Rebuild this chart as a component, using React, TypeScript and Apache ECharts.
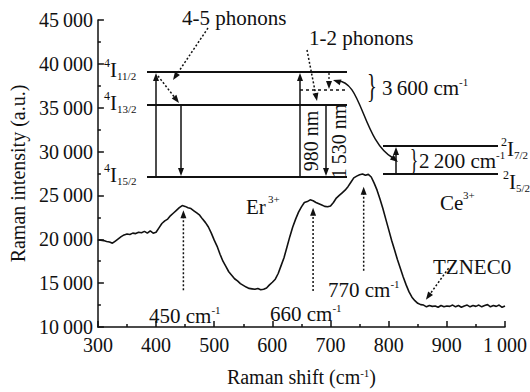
import React, { useEffect, useRef } from 'react';
import * as echarts from 'echarts';

// ---------- data ----------
const shiftStart = 300;
const shiftStep = 5;
const intensity = [
  19950, 19900, 19850, 19750, 19700, 19550, 19800, 20050, 20300, 20500,
  20600, 20550, 20700, 20650, 20800, 20750, 20900, 20700, 20950, 20700,
  20800, 21300, 21800, 22100, 22300, 22700, 23000, 23300, 23600, 23850,
  23750, 23600, 23500, 23250, 23000, 22750, 22300, 21900, 21400, 20700,
  19900, 19200, 18300, 17500, 16900, 16300, 15900, 15500, 15250, 14950,
  14750, 14550, 14400, 14350, 14300, 14400, 14250, 14300, 14450, 14800,
  15100, 15450, 16100, 17000, 17900, 19100, 20300, 21400, 22300, 23100,
  23700, 24200, 24300, 24500, 24400, 24200, 24050, 23900, 23750, 23700,
  23800, 24200, 24700, 25000, 25300, 25600, 26000, 26500, 27000, 27200,
  27350, 27450, 27300, 27400, 27100, 26400, 25600, 24600, 23500, 22300,
  21100, 19900, 18800, 17700, 16700, 15700, 14800, 14000, 13400, 13000,
  12700, 12550, 12500, 12300, 12450, 12350, 12400, 12250, 12450, 12300,
  12400, 12350, 12500, 12300, 12450, 12250, 12400, 12500, 12300, 12450,
  12350, 12500, 12300, 12450, 12550, 12300, 12450, 12350, 12500, 12250,
  12400,
];
const xTicks = [300, 400, 500, 600, 700, 800, 900, 1000];
const yTicks = [10000, 15000, 20000, 25000, 30000, 35000, 40000, 45000];

// peak annotations
const peakLabels = ['450', '660', '770'];
const peakArrowShift = [447, 670, 757];
const peakArrowTip = [23300, 23600, 26000];
const peakArrowTail = [14200, 14100, 16400];

const INK = '#111';
const FONT = 'Liberation Serif';

function fmt(v: number) {
  if (v >= 1000) {
    const k = Math.floor(v / 1000);
    const r = String(v % 1000).padStart(3, '0');
    return k + '\u2009' + r;
  }
  return String(v);
}

function head(x: number, y: number, ux: number, uy: number, hl = 8, hw = 3) {
  const bx = x - ux * hl, by = y - uy * hl;
  return {
    type: 'polygon',
    silent: true,
    shape: { points: [[x, y], [bx - uy * hw, by + ux * hw], [bx + uy * hw, by - ux * hw]] },
    style: { fill: INK },
  };
}

function arrow(x1: number, y1: number, x2: number, y2: number, dash = false, lw = 1.5) {
  const dx = x2 - x1, dy = y2 - y1;
  const len = Math.hypot(dx, dy);
  const ux = dx / len, uy = dy / len;
  return [
    {
      type: 'line',
      silent: true,
      shape: { x1, y1, x2: x2 - ux * 6, y2: y2 - uy * 6 },
      style: { stroke: INK, lineWidth: lw, lineDash: dash ? [2, 2] : undefined },
    },
    head(x2, y2, ux, uy),
  ];
}

function hline(x1: number, x2: number, y: number, lw = 2, dash = false) {
  return {
    type: 'line',
    silent: true,
    shape: { x1, y1: y, x2, y2: y },
    style: { stroke: INK, lineWidth: lw, lineDash: dash ? [3, 3] : undefined },
  };
}

function txt(x: number, y: number, text: string, size = 20, align = 'left', extra: any = {}) {
  return {
    type: 'text',
    silent: true,
    x,
    y,
    ...extra,
    style: {
      text,
      fontSize: size,
      fontFamily: FONT,
      fill: INK,
      align,
      textAlign: align,
      verticalAlign: 'middle',
      textVerticalAlign: 'middle',
    },
  };
}

function level(x: number, y: number, sup: string, sub: string) {
  return [
    txt(x, y - 7, sup, 12),
    txt(x + 6, y, 'I', 21),
    txt(x + 13, y + 6, sub, 11),
  ];
}

function cmText(x: number, y: number, num: string) {
  return {
    type: 'text',
    silent: true,
    x,
    y,
    style: {
      text: `{m|${num} cm}{s|-1}`,
      fontFamily: FONT,
      fill: INK,
      align: 'left',
      textAlign: 'left',
      verticalAlign: 'middle',
      textVerticalAlign: 'middle',
      rich: {
        m: { fontSize: 21, fontFamily: FONT, fill: INK, lineHeight: 22, verticalAlign: 'bottom' },
        s: { fontSize: 11, fontFamily: FONT, fill: INK, lineHeight: 12, verticalAlign: 'top' },
      },
    },
  };
}

function brace(x: number, y: number, size: number) {
  return txt(x, y, '}', size, 'center', { scaleX: 0.6 });
}

export default function App() {
  const ref = useRef<HTMLDivElement>(null);
  useEffect(() => {
    const el = ref.current!;
    const chart = echarts.init(el, null, { renderer: 'svg' });
    const data = intensity.map((v, i) => [shiftStart + i * shiftStep, v]);
    const axisCommon = {
      axisLine: { show: true, lineStyle: { color: INK, width: 1.5 } },
      axisTick: { show: true, inside: true, length: 6, lineStyle: { color: INK, width: 1.5 } },
      minorTick: { show: true, splitNumber: 2, length: 3, lineStyle: { color: INK, width: 1.5 } },
      splitLine: { show: false },
    };
    chart.setOption({
      animation: false,
      backgroundColor: '#fff',
      textStyle: { fontFamily: FONT },
      grid: { left: 96, right: 24, top: 20, bottom: 57, containLabel: false },
      xAxis: {
        type: 'value',
        min: xTicks[0],
        max: xTicks[xTicks.length - 1],
        interval: 100,
        ...axisCommon,
        axisLabel: { fontSize: 20, fontFamily: FONT, color: INK, margin: 8, formatter: (v: number) => fmt(v) },
        name: 'Raman shift (cm{s|-1})',
        nameLocation: 'middle',
        nameGap: 40,
        nameTextStyle: {
          fontSize: 20,
          fontFamily: FONT,
          color: INK,
          rich: {
            s: { fontSize: 11, fontFamily: FONT, color: INK, verticalAlign: 'top', lineHeight: 12 },
          },
        },
      },
      yAxis: {
        type: 'value',
        min: yTicks[0],
        max: yTicks[yTicks.length - 1],
        interval: 5000,
        ...axisCommon,
        axisLabel: { fontSize: 20, fontFamily: FONT, color: INK, margin: 5, formatter: (v: number) => fmt(v) },
        name: 'Raman intensity (a.u.)',
        nameLocation: 'middle',
        nameGap: 68,
        nameTextStyle: { fontSize: 20, fontFamily: FONT, color: INK },
      },
      series: [
        {
          type: 'line',
          data,
          showSymbol: false,
          symbol: 'none',
          lineStyle: { color: INK, width: 1.6 },
          silent: true,
        },
      ],
    });

    const px = (v: number) => chart.convertToPixel({ xAxisIndex: 0 }, v) as number;
    const py = (v: number) => chart.convertToPixel({ yAxisIndex: 0 }, v) as number;

    const els: any[] = [];
    // Er3+ energy levels
    els.push(hline(147, 347, 72));
    els.push(hline(147, 347, 105));
    els.push(hline(147, 347, 177));
    els.push(...level(104, 70, '4', '11/2'));
    els.push(...level(104, 103, '4', '13/2'));
    els.push(...level(104, 175, '4', '15/2'));
    els.push(...arrow(156, 177, 156, 73));
    els.push(...arrow(181, 105, 181, 176));
    els.push(...arrow(158, 76, 179, 103, true));
    els.push(...arrow(208, 28, 173, 80, true));
    els.push(txt(182, 18, '4-5 phonons', 21));
    // 980 / 1530 nm
    els.push(...arrow(300, 177, 300, 73));
    els.push(...arrow(326, 105, 326, 176));
    els.push(txt(311, 141, '980 nm', 20, 'center', { rotation: Math.PI / 2 }));
    els.push(txt(339, 141, '1\u2009530 nm', 20, 'center', { rotation: Math.PI / 2 }));
    els.push(hline(300, 347, 90, 1.5, true));
    els.push(...arrow(307, 50, 317, 101, true));
    els.push(txt(309, 38, '1-2 phonons', 21));
    els.push(...arrow(329, 73, 329, 89, true, 1.3));
    // curved transfer arrow
    els.push({
      type: 'bezierCurve',
      silent: true,
      shape: { x1: 336, y1: 81, cpx1: 362, cpy1: 78, cpx2: 362, cpy2: 140, x2: 393, y2: 158 },
      style: { stroke: INK, lineWidth: 1.5, fill: null },
    });
    els.push(head(333, 80, -0.95, -0.3));
    els.push(head(398, 162, 0.78, 0.62));
    els.push(brace(372, 85, 34));
    els.push(cmText(382, 87, '3\u2009600'));
    // Ce3+ levels
    els.push(hline(383, 498, 146));
    els.push(hline(383, 498, 174));
    els.push(...arrow(396, 174, 396, 147));
    els.push(brace(414, 159, 30));
    els.push(cmText(419, 160, '2\u2009200'));
    els.push(...level(501, 149, '2', '7/2'));
    els.push(...level(503, 182, '2', '5/2'));
    // ion labels
    els.push(txt(246, 207, 'Er', 21));
    els.push(txt(268, 199, '3+', 11));
    els.push(txt(440, 203, 'Ce', 21));
    els.push(txt(463, 195, '3+', 11));
    // peak arrows & labels
    const labelPos = [
      [149, 315],
      [270, 313],
      [328, 289],
    ];
    peakArrowShift.forEach((s, i) => {
      els.push(...arrow(px(s), py(peakArrowTail[i]), px(s), py(peakArrowTip[i]), true));
      els.push(cmText(labelPos[i][0], labelPos[i][1], peakLabels[i]));
    });
    els.push(txt(433, 267, 'TZNEC0', 21));
    els.push(...arrow(px(903), py(16700), px(864), py(13100), true));

    chart.setOption({ graphic: { elements: els } });
    return () => chart.dispose();
  }, []);
  return (
    <div
      ref={ref}
      style={{ position: 'fixed', left: 0, top: 0, width: 530, height: 392, background: '#fff' }}
    />
  );
}
